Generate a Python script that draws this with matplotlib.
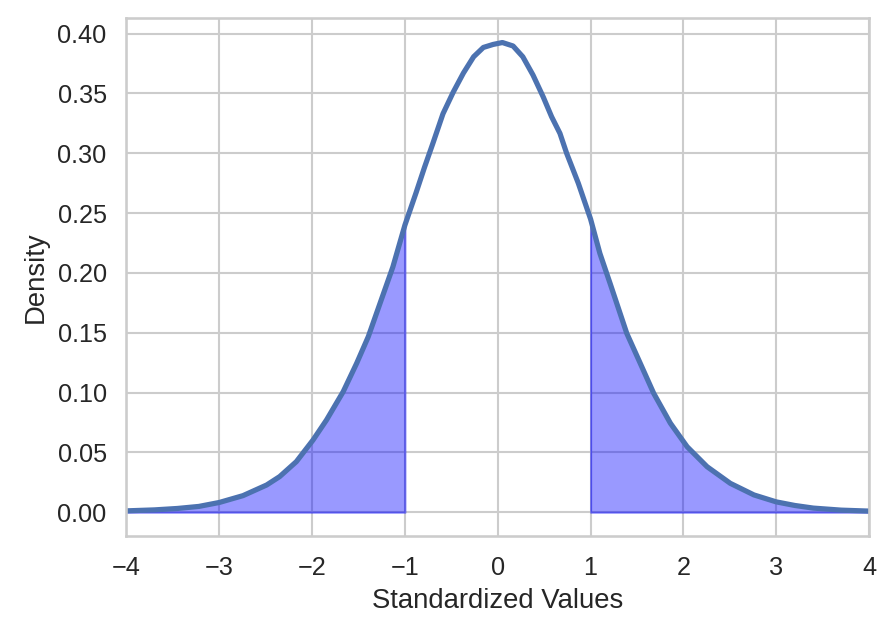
import numpy as np
import matplotlib
matplotlib.use('Agg')
import matplotlib.pyplot as plt
import seaborn as sns

# curve (density estimate of standardized values)
x_vals = [-4.0, -3.7, -3.45, -3.22, -3.0, -2.745, -2.49, -2.35, -2.17, -1.99,
          -1.845, -1.665, -1.52, -1.395, -1.23, -1.13, -1.0, -0.88, -0.788, -0.70,
          -0.59, -0.48, -0.37, -0.26, -0.155, -0.05, 0.05, 0.165, 0.27, 0.38,
          0.49, 0.58, 0.67, 0.742, 0.868, 1.0, 1.10, 1.21, 1.39, 1.535,
          1.68, 1.86, 2.04, 2.255, 2.505, 2.76, 3.0, 3.2, 3.4, 3.7,
          4.0]
density = [0.0012, 0.0020, 0.0032, 0.0049, 0.0082, 0.0139, 0.0228, 0.0298, 0.0423, 0.0604,
           0.0771, 0.1008, 0.1245, 0.1467, 0.1830, 0.2050, 0.2400, 0.2670, 0.2885, 0.3080,
           0.3330, 0.3510, 0.3670, 0.3806, 0.3884, 0.3909, 0.3925, 0.3896, 0.3806, 0.3653,
           0.3470, 0.3305, 0.3166, 0.3000, 0.2749, 0.2450, 0.2164, 0.1913, 0.1495, 0.1245,
           0.0994, 0.0744, 0.0548, 0.0381, 0.0242, 0.0145, 0.0087, 0.0057, 0.0035, 0.0018,
           0.0010]
x_ticks = [-4, -3, -2, -1, 0, 1, 2, 3, 4]

sns.set_theme(style='whitegrid')
plt.rcParams['font.family'] = ['Liberation Sans', 'DejaVu Sans']

x = np.array(x_vals)
y = np.array(density)

fig, ax = plt.subplots(figsize=(895 / 150, 638 / 150), dpi=150)
fig.subplots_adjust(left=0.1413, right=0.9710, top=0.9718, bottom=0.1599)

left = x <= -1
right = x >= 1
ax.fill_between(x[left], y[left], color='blue', alpha=0.4)
ax.fill_between(x[right], y[right], color='blue', alpha=0.4)
ax.plot(x, y, color='#4c72b0', lw=2.5, solid_joinstyle='round')

ax.set_xlim(-4, 4)
ax.set_ylim(-0.0198, 0.413)
ax.set_xticks(x_ticks)
ax.tick_params(labelsize=12.1)
ax.set_xlabel('Standardized Values', fontsize=13.2)
ax.set_ylabel('Density', fontsize=13.2)

fig.savefig('out.png', dpi=150)
